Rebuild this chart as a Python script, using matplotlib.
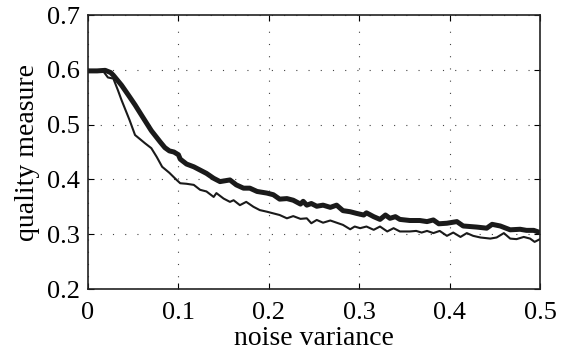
import matplotlib.pyplot as plt

# thick curve
x_thick = [0.0, 0.01, 0.019, 0.025, 0.028, 0.037, 0.045, 0.052, 0.06, 0.07, 0.08, 0.085,
           0.09, 0.095, 0.1, 0.102, 0.109, 0.117, 0.124, 0.131, 0.139, 0.146, 0.157, 0.164,
           0.172, 0.179, 0.187, 0.198, 0.205, 0.212, 0.22, 0.227, 0.235, 0.238, 0.242, 0.247,
           0.253, 0.26, 0.268, 0.275, 0.282, 0.29, 0.297, 0.305, 0.308, 0.316, 0.323, 0.329,
           0.334, 0.34, 0.345, 0.356, 0.367, 0.375, 0.382, 0.388, 0.397, 0.408, 0.415, 0.43,
           0.441, 0.447, 0.456, 0.467, 0.478, 0.485, 0.493, 0.5]
y_thick = [0.598, 0.598, 0.599, 0.595, 0.59, 0.572, 0.553, 0.536, 0.515, 0.489, 0.468, 0.458,
           0.452, 0.45, 0.445, 0.437, 0.428, 0.423, 0.417, 0.411, 0.402, 0.396, 0.399, 0.39,
           0.384, 0.384, 0.378, 0.375, 0.372, 0.364, 0.365, 0.362, 0.355, 0.36, 0.353, 0.356,
           0.351, 0.353, 0.349, 0.353, 0.343, 0.341, 0.338, 0.335, 0.339, 0.332, 0.327, 0.335,
           0.329, 0.332, 0.327, 0.325, 0.325, 0.323, 0.326, 0.319, 0.32, 0.323, 0.315, 0.313,
           0.311, 0.318, 0.315, 0.308, 0.309, 0.307, 0.307, 0.303]

# thin curve
x_thin = [0.0, 0.01, 0.017, 0.022, 0.028, 0.033, 0.037, 0.046, 0.052, 0.063, 0.07, 0.076,
          0.082, 0.09, 0.098, 0.102, 0.109, 0.117, 0.124, 0.131, 0.139, 0.142, 0.15, 0.157,
          0.161, 0.168, 0.175, 0.183, 0.19, 0.198, 0.205, 0.212, 0.22, 0.227, 0.235, 0.242,
          0.247, 0.253, 0.26, 0.268, 0.275, 0.282, 0.29, 0.295, 0.301, 0.308, 0.316, 0.323,
          0.331, 0.338, 0.345, 0.356, 0.363, 0.369, 0.375, 0.382, 0.389, 0.397, 0.404, 0.412,
          0.419, 0.426, 0.434, 0.445, 0.452, 0.46, 0.467, 0.474, 0.482, 0.489, 0.494, 0.5]
y_thin = [0.596, 0.597, 0.597, 0.586, 0.584, 0.563, 0.545, 0.508, 0.481, 0.466, 0.457, 0.441,
          0.423, 0.412, 0.399, 0.393, 0.392, 0.39, 0.381, 0.378, 0.368, 0.375, 0.365, 0.359,
          0.362, 0.353, 0.359, 0.35, 0.344, 0.341, 0.338, 0.335, 0.329, 0.333, 0.328, 0.329,
          0.32, 0.326, 0.321, 0.325, 0.321, 0.317, 0.309, 0.314, 0.311, 0.314, 0.308, 0.314,
          0.305, 0.311, 0.305, 0.305, 0.306, 0.303, 0.306, 0.302, 0.306, 0.297, 0.303, 0.295,
          0.302, 0.297, 0.294, 0.292, 0.294, 0.302, 0.292, 0.291, 0.295, 0.292, 0.286, 0.291]

x_ticks = [0, 0.1, 0.2, 0.3, 0.4, 0.5]
x_labels = ['0', '0.1', '0.2', '0.3', '0.4', '0.5']
y_ticks = [0.2, 0.3, 0.4, 0.5, 0.6, 0.7]
y_labels = ['0.2', '0.3', '0.4', '0.5', '0.6', '0.7']

plt.rcParams['font.family'] = ['Liberation Serif', 'DejaVu Serif']

fig = plt.figure(figsize=(5.65, 3.53), dpi=100)
ax = fig.add_axes([0.1558, 0.1813, 0.80, 0.7762])

ax.plot(x_thick, y_thick, color='#1a1a1a', linewidth=3.6, solid_joinstyle='round')
ax.plot(x_thin, y_thin, color='#1a1a1a', linewidth=1.5, solid_joinstyle='round')

ax.set_xlim(0, 0.5)
ax.set_ylim(0.2, 0.7)
ax.set_xticks(x_ticks)
ax.set_xticklabels(x_labels)
ax.set_yticks(y_ticks)
ax.set_yticklabels(y_labels)

ax.grid(True, color='#444444', linestyle=(0, (1, 10)), linewidth=0.8)
ax.tick_params(direction='in', length=4, width=0.8, top=True, right=True,
               labelsize=19)
ax.tick_params(axis='x', pad=9)
ax.tick_params(axis='y', pad=6)
for s in ax.spines.values():
    s.set_linewidth(1.2)
    s.set_color('#222222')

ax.set_xlabel('noise variance', fontsize=20, labelpad=2)
ax.set_ylabel('quality measure', fontsize=20, labelpad=5)

fig.savefig('out.png', dpi=100)
